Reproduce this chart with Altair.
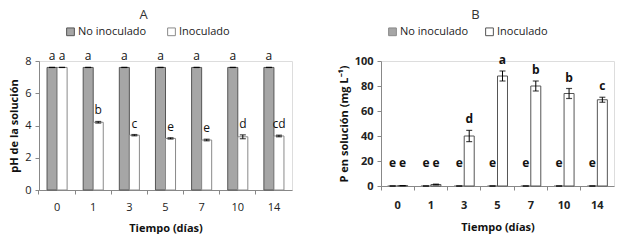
import altair as alt
import pandas as pd

days = ["0", "1", "3", "5", "7", "10", "14"]
series = ["No inoculado", "Inoculado"]

ph_no = [7.6, 7.6, 7.6, 7.6, 7.6, 7.6, 7.6]
ph_no_err = [0, 0, 0, 0, 0, 0, 0]
ph_inoc = [7.6, 4.2, 3.4, 3.2, 3.1, 3.3, 3.35]
ph_inoc_err = [0, 0.05, 0.04, 0.04, 0.05, 0.12, 0.05]
ph_no_letters = ["a", "a", "a", "a", "a", "a", "a"]
ph_inoc_letters = ["a", "b", "c", "e", "e", "d", "cd"]

p_no = [0, 0, 0, 0, 0, 0, 0]
p_no_err = [0, 0, 0, 0, 0, 0, 0]
p_inoc = [0.3, 1.2, 40, 88, 80, 74, 69]
p_inoc_err = [0, 0.3, 4.5, 4, 4, 4, 2]
p_no_letters = ["e", "e", "e", "e", "e", "e", "e"]
p_inoc_letters = ["e", "e", "d", "a", "b", "b", "c"]

FONT = "Open Sans"


def make_df(no, no_err, ino, ino_err, no_l, ino_l, floor):
    rows = []
    for i, d in enumerate(days):
        for s, v, e, l in ((series[0], no[i], no_err[i], no_l[i]),
                           (series[1], ino[i], ino_err[i], ino_l[i])):
            rows.append({"dia": d, "serie": s, "valor": v, "lo": v - e,
                         "hi": v + e, "letra": l, "ly": max(v + e, floor)})
    return pd.DataFrame(rows)


dfA = make_df(ph_no, ph_no_err, ph_inoc, ph_inoc_err, ph_no_letters, ph_inoc_letters, 0)
dfB = make_df(p_no, p_no_err, p_inoc, p_inoc_err, p_no_letters, p_inoc_letters, 10)


def panel(df, title, ytitle, ymax, ystep, w, h, pad_outer, bold, fill_stroke,
          legx, colpad, lpad, tpad):
    xsc = alt.Scale(paddingInner=0, paddingOuter=0)
    xax = alt.Axis(title="Tiempo (días)", labelAngle=0, bandPosition=0,
                   domainColor="#888", tickColor="#888", tickSize=4,
                   labelFontSize=11, labelFont=FONT, labelColor="#222",
                   labelFontWeight="bold" if bold else "normal",
                   titleFont=FONT, titleFontSize=11, titleFontWeight="bold",
                   titleColor="#111", labelPadding=lpad, titlePadding=tpad)
    yax = alt.Axis(title=ytitle, values=list(range(0, ymax + 1, ystep)), grid=False,
                   labelOverlap=False,
                   domainColor="#888", tickColor="#888", tickSize=4,
                   labelFontSize=11, labelFont=FONT, labelColor="#222",
                   labelFontWeight="bold" if bold else "normal",
                   titleFont=FONT, titleFontSize=11, titleFontWeight="bold",
                   titleColor="#111", labelPadding=4, titlePadding=5)
    ysc = alt.Scale(domain=[0, ymax], nice=False)
    off = alt.XOffset("serie:N", sort=series,
                      scale=alt.Scale(domain=series, paddingInner=0, paddingOuter=pad_outer))
    base = alt.Chart(df).encode(
        x=alt.X("dia:N", sort=days, scale=xsc, axis=xax),
        xOffset=off,
    )
    bars = base.mark_bar(strokeWidth=1).encode(
        y=alt.Y("valor:Q", scale=ysc, axis=yax),
        fill=alt.Fill("serie:N", sort=series,
                      scale=alt.Scale(domain=series, range=["#a6a6a6", "#ffffff"]),
                      legend=alt.Legend(title=None, orient="none", direction="horizontal",
                                        legendX=legx, legendY=-35,
                                        symbolType="square", symbolSize=60,
                                        symbolStrokeWidth=1, labelFont=FONT,
                                        labelFontSize=11, labelColor="#222",
                                        columnPadding=colpad, labelOffset=2)),
        stroke=alt.Stroke("serie:N", sort=series,
                          scale=alt.Scale(domain=series, range=fill_stroke),
                          legend=None),
    )
    err = base.mark_rule(color="black", strokeWidth=1).encode(
        y=alt.Y("lo:Q", scale=ysc, axis=yax), y2="hi:Q")
    caps_hi = base.mark_tick(color="black", size=6, thickness=1.2).encode(
        y=alt.Y("hi:Q", scale=ysc, axis=yax))
    caps_lo = base.mark_tick(color="black", size=6, thickness=1.2).encode(
        y=alt.Y("lo:Q", scale=ysc, axis=yax))
    letters = base.mark_text(baseline="bottom", dy=-4, font=FONT, fontSize=12,
                             fontWeight="bold" if bold else "normal",
                             color="#111").encode(
        y=alt.Y("ly:Q", scale=ysc, axis=yax), text="letra:N")
    return alt.layer(bars, err, caps_hi, caps_lo, letters).properties(
        width=w, height=h,
        title=alt.Title(title, font=FONT, fontSize=13, fontWeight="normal",
                        color="#333", offset=4, dx=-22),
    )


A = panel(dfA, "A", "pH de la solución", 8, 2, 253, 129, 0.8, False,
          ["#555555", "#8a8a8a"], 26, 18, 7, 10)
B = panel(dfB, "B", "P en solución (mg L⁻¹)", 100, 20, 233, 125, 0.665, True,
          ["#8a8a8a", "#555555"], 6, 14, 9, 11)

chart = alt.hconcat(A, B, spacing=44).resolve_scale(
    fill="independent", stroke="independent", y="independent", x="independent",
    xOffset="independent"
).properties(padding=0).configure_view(stroke=None).configure(background="white")

chart.save("out.html", embed_options={"renderer": "svg", "actions": False})
